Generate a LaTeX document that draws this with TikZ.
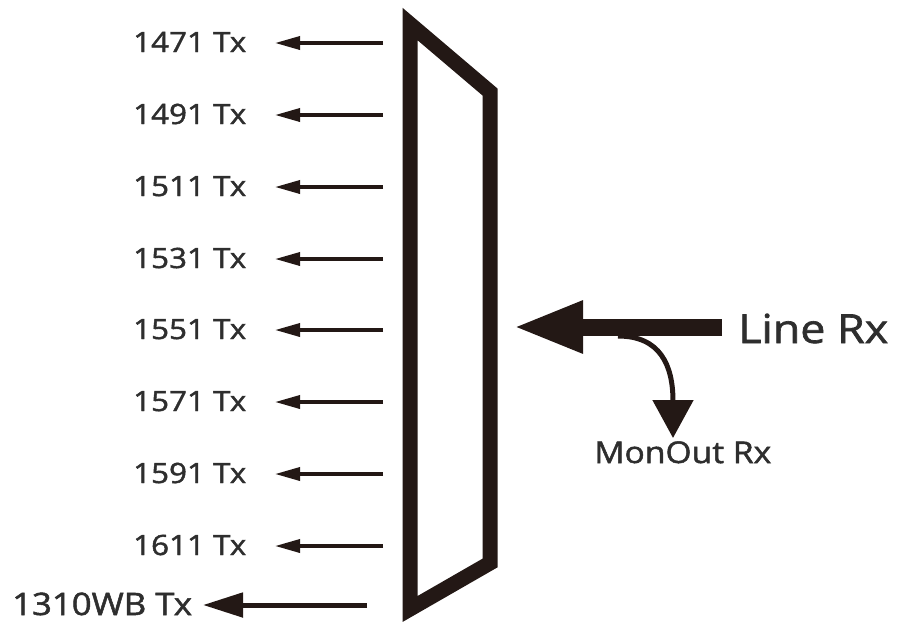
\documentclass[tikz,border=0pt]{standalone}
\usepackage{fontspec}
\setmainfont{Open Sans}[FakeStretch=1.12, FakeBold=1.6]
\usetikzlibrary{arrows.meta}
\definecolor{ink}{HTML}{231815}
\definecolor{txt}{HTML}{2E2E2E}
\tikzset{
  lbl/.style={inner sep=0pt, text=txt, font=\fontsize{28}{30}\selectfont},
  txarrow/.style={draw=ink, line width=3.5pt, -{Triangle[length=25pt,width=13pt]}},
  wbarrow/.style={draw=ink, line width=5pt, -{Triangle[length=40pt,width=24pt]}},
  rxarrow/.style={draw=ink, line width=17pt, -{Triangle[length=70pt,width=48pt]}},
  monarrow/.style={draw=ink, line width=5pt, -{Triangle[length=38pt,width=40pt]}},
  mux/.style={draw=ink, line width=15pt, line join=miter}
}
\begin{document}
\begin{tikzpicture}[x=1pt,y=-1pt]
\useasboundingbox (0,0) rectangle (904,622);
% multiplexer body
\coordinate (m1) at (410,24);
\coordinate (m2) at (490,92);
\coordinate (m3) at (490,563);
\coordinate (m4) at (410,609);
\draw[mux] (m1) -- (m2) -- (m3) -- (m4) -- cycle;
% Tx channels
\foreach \i/\y/\t in {1/43/1471, 2/115/1491, 3/187/1511, 4/259/1531, 5/330/1551, 6/402/1571, 7/474/1591, 8/546/1611}{
  \node[lbl, anchor=base west] (t\i) at (133,\y+9) {\t{} Tx};
  \coordinate (s\i) at (383,\y);
  \coordinate (e\i) at (275,\y);
  \draw[txarrow] (s\i) -- (e\i);
}
\node[lbl, font=\fontsize{31}{33}\selectfont, anchor=base west] (twb) at (12,615) {1310WB Tx};
\coordinate (swb) at (367,605);
\coordinate (ewb) at (203,605);
\draw[wbarrow] (swb) -- (ewb);
% Line Rx
\node[inner sep=0pt, text=txt, font=\fontsize{40}{42}\selectfont, anchor=base west] (rx) at (738,343) {Line Rx};
\coordinate (rxs) at (722,327);
\coordinate (rxe) at (513,327);
\draw[rxarrow] (rxs) -- (rxe);
% MonOut
\coordinate (ms) at (618,336);
\coordinate (me) at (673,438);
\draw[monarrow] (ms) .. controls (660,336) and (673,365) .. (me);
\node[lbl, font=\fontsize{30}{32}\selectfont, anchor=base west] (mon) at (594,463) {MonOut Rx};
\end{tikzpicture}
\end{document}
